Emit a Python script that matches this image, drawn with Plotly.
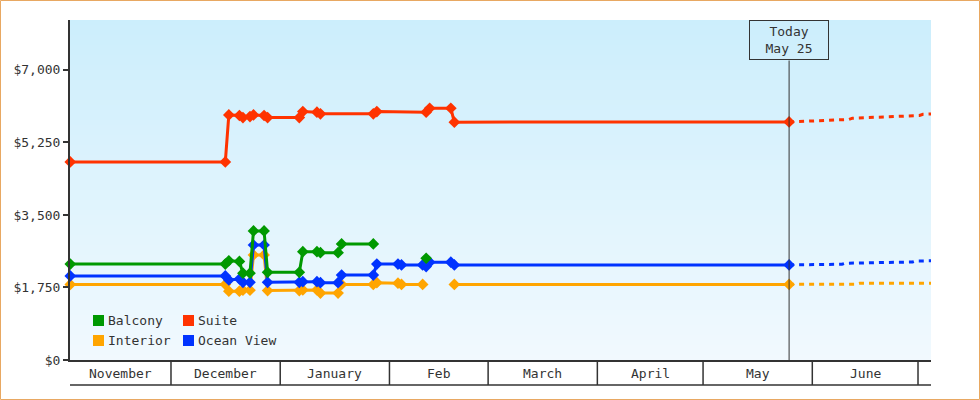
import plotly.graph_objects as go
import pandas as pd

# ---------------- data ----------------
suite_dates = ["2018-11-02", "2018-12-16", "2018-12-17", "2018-12-20", "2018-12-21", "2018-12-23",
               "2018-12-24", "2018-12-27", "2018-12-28", "2019-01-06", "2019-01-07", "2019-01-11",
               "2019-01-12", "2019-01-27", "2019-01-28", "2019-02-11", "2019-02-12", "2019-02-18",
               "2019-02-19", "2019-05-25"]
suite_values = [4780, 4780, 5915, 5900, 5850, 5875, 5915, 5900, 5850, 5850, 5995, 5980,
                5940, 5940, 5995, 5980, 6075, 6075, 5740, 5745]

balcony_dates = ["2018-11-02", "2018-12-16", "2018-12-17", "2018-12-20", "2018-12-21", "2018-12-23",
                 "2018-12-24", "2018-12-27", "2018-12-28", "2019-01-06", "2019-01-07", "2019-01-11",
                 "2019-01-12", "2019-01-17", "2019-01-18", "2019-01-27", "2019-02-03", "2019-02-11"]
balcony_values = [2315, 2315, 2395, 2380, 2095, 2095, 3115, 3115, 2115, 2115, 2615, 2615,
                  2590, 2590, 2800, 2800, None, 2455]

ocean_dates = ["2018-11-02", "2018-12-16", "2018-12-17", "2018-12-20", "2018-12-21", "2018-12-23",
               "2018-12-24", "2018-12-27", "2018-12-28", "2019-01-06", "2019-01-07", "2019-01-11",
               "2019-01-12", "2019-01-17", "2019-01-18", "2019-01-27", "2019-01-28", "2019-02-03",
               "2019-02-04", "2019-02-10", "2019-02-11", "2019-02-12", "2019-02-18", "2019-02-19",
               "2019-05-25"]
ocean_values = [2030, 2030, 1930, 1955, 1875, 1875, 2775, 2775, 1875, 1875, 1890, 1890,
                1865, 1865, 2050, 2050, 2315, 2315, 2295, 2295, 2255, 2360, 2360, 2295, 2295]

interior_dates = ["2018-11-02", "2018-12-16", "2018-12-17", "2018-12-20", "2018-12-21", "2018-12-23",
                  "2018-12-24", "2018-12-27", "2018-12-28", "2019-01-06", "2019-01-07", "2019-01-11",
                  "2019-01-12", "2019-01-17", "2019-01-18", "2019-01-27", "2019-01-28", "2019-02-03",
                  "2019-02-04", "2019-02-10", "2019-02-14", "2019-02-19", "2019-05-25"]
interior_values = [1825, 1825, 1660, 1660, 1685, 1685, 2535, 2535, 1675, 1675, 1690, 1690,
                   1615, 1615, 1825, 1825, 1865, 1855, 1825, 1825, None, 1825, 1825]

# forecasts (dotted)
suite_fc_dates = ["2019-05-25", "2019-06-11", "2019-06-12", "2019-07-01", "2019-07-02", "2019-07-06"]
suite_fc_values = [5745, 5805, 5835, 5900, 5930, 5940]
ocean_fc_dates = ["2019-05-25", "2019-06-09", "2019-06-10", "2019-06-29", "2019-06-30", "2019-07-06"]
ocean_fc_values = [2295, 2310, 2335, 2365, 2390, 2395]
interior_fc_dates = ["2019-05-25", "2019-06-13", "2019-06-14", "2019-07-06"]
interior_fc_values = [1825, 1830, 1850, 1855]

y_ticks = [0, 1750, 3500, 5250, 7000]
y_tick_labels = ["$0", "$1,750", "$3,500", "$5,250", "$7,000"]
month_starts = ["2018-12-01", "2019-01-01", "2019-02-01", "2019-03-01", "2019-04-01",
                "2019-05-01", "2019-06-01", "2019-07-01"]
month_labels = ["November", "December", "January", "Feb", "March", "April", "May", "June"]
x_start = "2018-11-02 08:10"
x_end = "2019-07-04 16:30"
today = "2019-05-25"
today_text = "Today<br>May 25"
obs_time = pd.Timedelta(hours=10)   # time of day the prices were sampled

# ---------------- styles ----------------
FONT = "DejaVu Sans Mono"
TXT = "#333333"
C_SUITE = "#ff3300"
C_BALC = "#009900"
C_INT = "#ffa500"
C_OCEAN = "#0033ff"

L, R, T, B = 70, 931, 20, 360
W, H = R - L, B - T


def px(x):
    return (x - L) / W


def py(y):
    return (B - y) / H


def ts(dates):
    return pd.to_datetime(dates) + obs_time


fig = go.Figure()

series = [
    ("Interior", interior_dates, interior_values, interior_fc_dates, interior_fc_values, C_INT),
    ("Ocean View", ocean_dates, ocean_values, ocean_fc_dates, ocean_fc_values, C_OCEAN),
    ("Balcony", balcony_dates, balcony_values, None, None, C_BALC),
    ("Suite", suite_dates, suite_values, suite_fc_dates, suite_fc_values, C_SUITE),
]
for name, d, v, fd, fv, c in series:
    if fd is not None:
        fig.add_trace(go.Scatter(x=ts(fd), y=fv, mode="lines",
                                 line=dict(color=c, width=3, dash="5px,5px"),
                                 showlegend=False, hoverinfo="skip"))
    fig.add_trace(go.Scatter(x=ts(d), y=v, mode="lines+markers", name=name,
                             line=dict(color=c, width=3),
                             marker=dict(symbol="diamond", size=9, color=c),
                             cliponaxis=False, showlegend=False))

shapes = []
# gradient background
top_c = (204, 238, 252)
bot_c = (241, 249, 254)
n = 68
for i in range(n):
    f = i / (n - 1)
    col = tuple(round(top_c[k] + (bot_c[k] - top_c[k]) * f) for k in range(3))
    y1 = 1 - i / n
    y0 = 1 - (i + 1) / n
    shapes.append(dict(type="rect", xref="paper", yref="paper", x0=0, x1=1, y0=y0 - 0.001, y1=y1,
                       fillcolor="rgb(%d,%d,%d)" % col, line=dict(width=0), layer="below"))

# month boxes
box_bottom = py(385)
for ms in month_starts:
    shapes.append(dict(type="line", xref="x", yref="paper", x0=ms, x1=ms, y0=0, y1=box_bottom,
                       line=dict(color=TXT, width=1.5)))
shapes.append(dict(type="line", xref="paper", yref="paper", x0=0, x1=1, y0=box_bottom, y1=box_bottom,
                   line=dict(color=TXT, width=1.5)))

# today line
today_ts = ts([today])[0]
shapes.append(dict(type="line", xref="x", yref="paper", x0=today_ts, x1=today_ts, y0=0, y1=py(60.5),
                   line=dict(color=TXT, width=1)))

# outer border
shapes.append(dict(type="rect", xref="paper", yref="paper", x0=px(0.5), x1=px(979.5),
                   y0=py(399.5), y1=py(0.5), line=dict(color="#e8a862", width=1)))

annotations = []
# month labels
seg_starts = [pd.Timestamp(x_start)] + [pd.Timestamp(m) for m in month_starts]
seg_ends = [pd.Timestamp(m) for m in month_starts] + [pd.Timestamp(x_end)]
for lab, s, e in zip(month_labels, seg_starts, seg_ends):
    mid = s + (e - s) / 2
    annotations.append(dict(x=mid.strftime("%Y-%m-%d %H:%M"), xref="x", y=py(373), yref="paper",
                            text=lab, showarrow=False, xanchor="center", yanchor="middle",
                            font=dict(family=FONT, size=13, color=TXT)))

# today box
annotations.append(dict(x=today_ts, xref="x", y=1, yref="paper", text=today_text, showarrow=False,
                        xanchor="center", yanchor="top", align="center",
                        width=76, height=36, borderpad=1, borderwidth=1, bordercolor=TXT,
                        font=dict(family=FONT, size=13, color=TXT)))

# legend (manual)
legend_items = [("Balcony", C_BALC, 93, 315), ("Suite", C_SUITE, 183, 315),
                ("Interior", C_INT, 93, 335), ("Ocean View", C_OCEAN, 183, 335)]
for name, c, sx, sy in legend_items:
    shapes.append(dict(type="rect", xref="paper", yref="paper", x0=px(sx), x1=px(sx + 11),
                       y0=py(sy + 11), y1=py(sy), fillcolor=c, line=dict(width=0)))
    annotations.append(dict(x=px(sx + 13), xref="paper", y=py(sy + 5.5), yref="paper", text=name,
                            showarrow=False, xanchor="left", yanchor="middle",
                            font=dict(family=FONT, size=13, color=TXT)))

fig.update_layout(
    width=980, height=400,
    margin=dict(l=L, r=980 - R, t=T, b=400 - B, autoexpand=False),
    paper_bgcolor="white", plot_bgcolor="white",
    font=dict(family=FONT, size=13, color=TXT),
    showlegend=False,
    shapes=shapes, annotations=annotations,
    xaxis=dict(type="date", range=[x_start, x_end], showticklabels=False, ticks="",
               showgrid=False, zeroline=False, showline=True, linecolor=TXT, linewidth=2,
               fixedrange=True),
    yaxis=dict(range=[0, 8205], tickmode="array", tickvals=y_ticks, ticktext=y_tick_labels,
               showgrid=False, zeroline=False, showline=True, linecolor=TXT, linewidth=2,
               ticks="outside", ticklen=5, tickwidth=2, tickcolor=TXT,
               tickfont=dict(family=FONT, size=13, color=TXT), fixedrange=True),
)

fig.write_html("out.html", config={"displayModeBar": False},
               post_script="document.body.style.margin='0';")
